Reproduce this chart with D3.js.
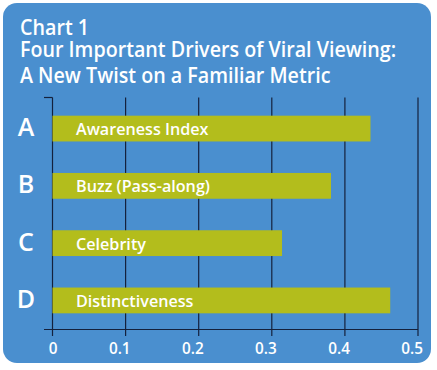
<!DOCTYPE html>
<html><head><meta charset="utf-8">
<script src="https://cdn.jsdelivr.net/npm/d3@7"></script>
<style>body{margin:0;background:#fff}svg{display:block}text{font-family:"Open Sans",sans-serif;fill:#fff;font-weight:600}</style>
</head><body><div id="c"></div>
<script>
const letters = ["A","B","C","D"];
const categories = ["Awareness Index","Buzz (Pass-along)","Celebrity","Distinctiveness"];
const values = [0.435, 0.381, 0.314, 0.462];
const ticks = [0, 0.1, 0.2, 0.3, 0.4, 0.5];
const tickLabels = ["0","0.1","0.2","0.3","0.4","0.5"];
const titleLines = ["Chart 1","Four Important Drivers of Viral Viewing:","A New Twist on a Familiar Metric"];

const W=437,H=370;
const svg=d3.select("#c").append("svg").attr("width",W).attr("height",H);
svg.append("rect").attr("x",3).attr("y",3).attr("width",428).attr("height",360).attr("rx",14).attr("fill","#4A8FCF");

function condense(sel,k){sel.each(function(){const n=this;const l=n.getComputedTextLength();d3.select(n).attr("textLength",l*k).attr("lengthAdjust","spacingAndGlyphs");});}

const ty=[35,57,83];
const tl=svg.selectAll(".title").data(titleLines).join("text").attr("class","title")
  .attr("x",20).attr("y",(d,i)=>ty[i]).attr("font-size",21).text(d=>d);
condense(tl,0.937);

const x=d3.scaleLinear().domain([0,0.5]).range([52.5,418]);
const y=d3.scaleBand().domain(letters).range([98.5,330.5]).paddingInner(0.55).paddingOuter(0.3);

const g=svg.append("g");
g.selectAll(".grid").data(ticks).join("line")
 .attr("x1",d=>x(d)).attr("x2",d=>x(d)).attr("y1",97.5).attr("y2",336)
 .attr("stroke","#14213d").attr("stroke-width",1.2);
g.append("line").attr("x1",44).attr("x2",x(0)).attr("y1",97.5).attr("y2",97.5).attr("stroke","#14213d").attr("stroke-width",1.2);

const ax=svg.append("g").attr("transform","translate(0,329.5)").call(d3.axisBottom(x).tickValues(ticks).tickFormat((d,i)=>tickLabels[i]).tickSize(0).tickPadding(0));
ax.select(".domain").remove();
ax.append("line").attr("x1",44).attr("x2",418).attr("stroke","#14213d").attr("stroke-width",1.2);
ax.selectAll(".tick text").attr("font-size",17).attr("fill","#fff").attr("text-anchor","end").attr("x",4.5).attr("dy",null).attr("y",24.5)
  .style("font-family","'Open Sans',sans-serif").style("font-weight",600);
condense(ax.selectAll(".tick text"),0.9);

g.selectAll(".bar").data(values).join("rect")
 .attr("x",x(0)).attr("y",(d,i)=>y(letters[i])).attr("width",d=>x(d)-x(0)).attr("height",y.bandwidth())
 .attr("fill","#B3BD1C");

const lb=svg.selectAll(".lbl").data(categories).join("text").attr("class","lbl")
 .attr("x",76).attr("y",(d,i)=>y(letters[i])+y.bandwidth()/2+6.5).attr("font-size",17).text(d=>d);
condense(lb,0.95);

const lt=svg.selectAll(".let").data(letters).join("text").attr("class","let")
 .attr("x",26).attr("text-anchor","middle").attr("y",(d,i)=>y(d)+y.bandwidth()/2+7.5).attr("font-size",25).style("font-weight",600).text(d=>d);
</script></body></html>
